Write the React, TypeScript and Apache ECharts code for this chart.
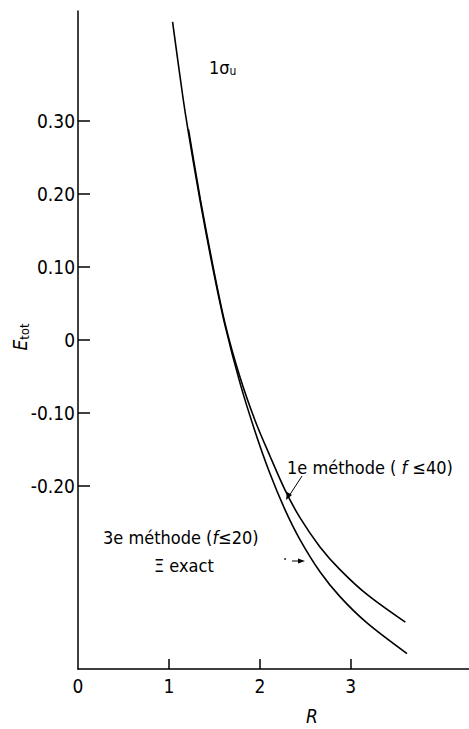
import React, { useEffect, useRef } from "react";
import * as echarts from "echarts";

// Curve "3e méthode (f≤20) ≡ exact"
const R_EXACT = [1.04, 1.155, 1.21, 1.342, 1.485, 1.617, 1.782, 1.947, 2.112, 2.276, 2.441, 2.661, 2.881, 3.178, 3.618];
const E_EXACT = [0.435, 0.331, 0.287, 0.191, 0.097, 0.02, -0.059, -0.125, -0.183, -0.232, -0.273, -0.317, -0.351, -0.387, -0.429];

// Curve "1e méthode (f≤40)"
const R_FIRST = [1.215, 1.346, 1.489, 1.62, 1.782, 1.947, 2.112, 2.276, 2.441, 2.661, 2.881, 3.178, 3.6];
const E_FIRST = [0.288, 0.192, 0.098, 0.021, -0.051, -0.11, -0.159, -0.205, -0.243, -0.283, -0.314, -0.348, -0.386];

const Y_TICKS = [0.3, 0.2, 0.1, 0, -0.1, -0.2];
const X_TICKS = [1, 2, 3];
const X_LABELS = [0, 1, 2, 3];

const FONT = "'DejaVu Sans Condensed', 'Liberation Sans Narrow', 'Liberation Sans', sans-serif";

export default function App() {
  const ref = useRef<HTMLDivElement>(null);
  useEffect(() => {
    if (!ref.current) return;
    const chart = echarts.init(ref.current, null, { renderer: "svg" });
    const exact = R_EXACT.map((r, i) => [r, E_EXACT[i]]);
    const first = R_FIRST.map((r, i) => [r, E_FIRST[i]]);
    const black = "#000";
    chart.setOption({
      animation: false,
      backgroundColor: "#fff",
      grid: { left: 78, right: 0, top: 11, bottom: 60 },
      xAxis: {
        type: "value",
        min: 0,
        max: 4.3,
        axisLine: { onZero: false, lineStyle: { color: black, width: 1.5 } },
        axisTick: { inside: true, length: 10, customValues: X_TICKS, lineStyle: { color: black, width: 1.5 } },
        axisLabel: {
          customValues: X_LABELS,
          margin: 7,
          color: black,
          fontSize: 19,
          fontFamily: FONT,
          formatter: (v: number) => String(v),
        },
        splitLine: { show: false },
      },
      yAxis: {
        type: "value",
        min: -0.45,
        max: 0.45,
        axisLine: { onZero: false, lineStyle: { color: black, width: 1.5 } },
        axisTick: { inside: true, length: 12, customValues: Y_TICKS, lineStyle: { color: black, width: 1.5 } },
        axisLabel: {
          customValues: Y_TICKS,
          margin: 3,
          color: black,
          fontSize: 19,
          fontFamily: FONT,
          formatter: (v: number) => (Math.abs(v) < 1e-9 ? "0" : v.toFixed(2)),
        },
        splitLine: { show: false },
      },
      series: [
        {
          type: "line",
          name: "3e méthode (f≤20) ≡ exact",
          data: exact,
          smooth: 0.3,
          showSymbol: false,
          lineStyle: { color: black, width: 1.6 },
        },
        {
          type: "line",
          name: "1e méthode (f≤40)",
          data: first,
          smooth: 0.3,
          showSymbol: false,
          lineStyle: { color: black, width: 1.6 },
        },
      ],
      graphic: [
        {
          type: "text",
          x: 20,
          y: 337,
          rotation: Math.PI / 2,
          style: {
            text: "{e|E}{s|tot}",
            align: "center",
            verticalAlign: "middle",
            rich: {
              e: { fontSize: 19, fontStyle: "italic", fontFamily: FONT, fill: black },
              s: { fontSize: 13, fontFamily: FONT, fill: black, padding: [8, 0, 0, 0] },
            },
          },
        },
        {
          type: "text",
          x: 312,
          y: 706,
          style: { text: "R", fontSize: 19, fontStyle: "italic", fontFamily: FONT, fill: black, align: "center", verticalAlign: "top" },
        },
        {
          type: "text",
          x: 209,
          y: 67,
          style: {
            text: "{n|1σ}{s|u}",
            verticalAlign: "middle",
            rich: {
              n: { fontSize: 18, fontFamily: FONT, fill: black },
              s: { fontSize: 12, fontFamily: FONT, fill: black, padding: [8, 0, 0, 0] },
            },
          },
        },
        {
          type: "text",
          x: 287,
          y: 467,
          style: {
            text: "{t|1e méthode ( }{i|f}{t| ≤40)}",
            verticalAlign: "middle",
            rich: {
              t: { fontSize: 18, fontFamily: FONT, fill: black },
              i: { fontSize: 18, fontStyle: "italic", fontFamily: FONT, fill: black },
            },
          },
        },
        {
          type: "text",
          x: 103,
          y: 537,
          style: {
            text: "{t|3e méthode (}{i|f}{t|≤20)}",
            verticalAlign: "middle",
            rich: {
              t: { fontSize: 18, fontFamily: FONT, fill: black },
              i: { fontSize: 18, fontStyle: "italic", fontFamily: FONT, fill: black },
            },
          },
        },
        {
          type: "text",
          x: 154,
          y: 565,
          style: { text: "Ξ exact", fontSize: 18, fontFamily: FONT, fill: black, verticalAlign: "middle" },
        },
        {
          type: "line",
          shape: { x1: 302, y1: 476, x2: 289, y2: 496 },
          style: { stroke: black, lineWidth: 1 },
        },
        {
          type: "polygon",
          shape: { points: [[286, 500], [287, 492], [292, 495]] },
          style: { fill: black },
        },
        {
          type: "circle",
          shape: { cx: 285, cy: 559, r: 0.8 },
          style: { fill: black },
        },
        {
          type: "line",
          shape: { x1: 292, y1: 561, x2: 300, y2: 561 },
          style: { stroke: black, lineWidth: 1 },
        },
        {
          type: "polygon",
          shape: { points: [[305, 561], [298, 558.5], [298, 563.5]] },
          style: { fill: black },
        },
      ],
    });
    return () => chart.dispose();
  }, []);
  return (
    <div
      ref={ref}
      style={{ position: "absolute", left: 0, top: 0, width: 469, height: 729, background: "#fff" }}
    />
  );
}
